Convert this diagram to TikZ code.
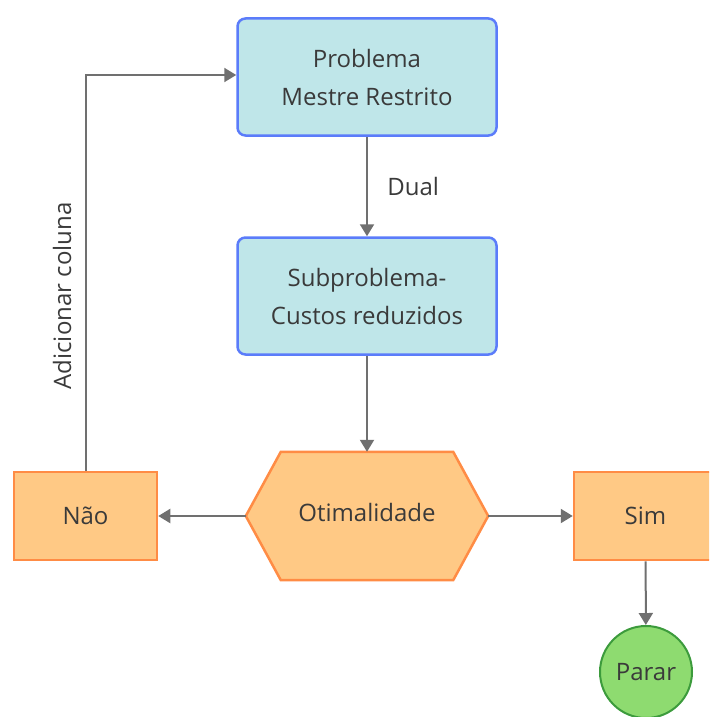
\documentclass[tikz,border=0pt]{standalone}
\usepackage{fontspec}
\setmainfont{Open Sans}
\usetikzlibrary{arrows.meta}
\definecolor{cyanfill}{HTML}{BFE6E9}
\definecolor{blueedge}{HTML}{5B7CFA}
\definecolor{orfill}{HTML}{FFC985}
\definecolor{oredge}{HTML}{FF8C45}
\definecolor{grfill}{HTML}{8EDB70}
\definecolor{gredge}{HTML}{3C9B3C}
\definecolor{conn}{HTML}{707070}
\definecolor{txt}{HTML}{3A3A3A}
\begin{document}
\begin{tikzpicture}[x=1pt,y=-1pt,
  lbl/.style={text=txt, font=\fontsize{24}{38}\selectfont},
  bluebox/.style={lbl, draw=blueedge, fill=cyanfill, line width=2.5pt, rounded corners=8pt,
    minimum width=259pt, minimum height=117pt, align=center, inner sep=0pt},
  orbox/.style={lbl, draw=oredge, fill=orfill, line width=2.5pt,
    minimum width=143pt, minimum height=88pt, inner sep=0pt},
  stopnode/.style={lbl, circle, draw=gredge, fill=grfill, line width=2pt,
    minimum size=92pt, inner sep=0pt},
  conn/.style={draw=conn, line width=2pt, -{Triangle[length=12pt,width=14pt]}}]
\useasboundingbox (0,0) rectangle (709,717);
\clip (0,0) rectangle (709,717);
\node[bluebox] (pmr) at (367,77) {Problema\\Mestre Restrito};
\node[bluebox] (sub) at (367,296) {Subproblema-\\Custos reduzidos};
% hexagon
\node[minimum width=242pt, minimum height=128pt, inner sep=0pt] (opt) at (367,516) {};
\draw[draw=oredge, fill=orfill, line width=2.5pt, line join=miter]
  (opt.west) -- ([xshift=35pt]opt.north west) -- ([xshift=-35pt]opt.north east)
  -- (opt.east) -- ([xshift=-35pt]opt.south east) -- ([xshift=35pt]opt.south west) -- cycle;
\node[lbl] at (367,512) {Otimalidade};
\node[orbox] (nao) at (85.5,516) {Não};
\node[orbox] (sim) at (645.5,516) {Sim};
\node[stopnode] (parar) at (646,672) {Parar};
\coordinate (corner) at (85.5,75);
\draw[conn] (pmr) -- node[lbl, right=16pt, pos=0.5]{Dual} (sub);
\draw[conn] (sub) -- (opt.north);
\draw[conn] (opt.west) -- (nao.east);
\draw[conn] (opt.east) -- (sim.west);
\draw[conn] (sim) -- (parar);
\draw[conn] (nao.north) -- (corner) -- (pmr.west |- corner);
\node[lbl, rotate=90] (addc) at (62,296) {Adicionar coluna};
\end{tikzpicture}
\end{document}
